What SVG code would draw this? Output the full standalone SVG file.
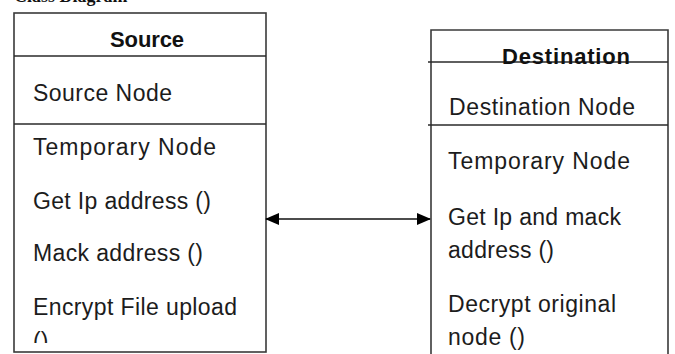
<svg xmlns="http://www.w3.org/2000/svg" width="675" height="354" viewBox="0 0 675 354">
<style>
.box{fill:none;stroke:#3a3a3a;stroke-width:1.6}
.ln{stroke:#2a2a2a;stroke-width:1.4}
.t{font-family:"Liberation Sans",Arial,sans-serif;font-size:23px;fill:#1c1c1c}
.b{font-family:"Liberation Sans",Arial,sans-serif;font-size:22px;font-weight:bold;fill:#111}
.cap{font-family:"Liberation Serif","Times New Roman",serif;font-size:18px;font-weight:bold;fill:#111}
</style>
<defs>
<marker id="ah" viewBox="0 0 14 12" refX="13" refY="6" markerWidth="14" markerHeight="12" markerUnits="userSpaceOnUse" orient="auto-start-reverse">
<path d="M0,0 L14,6 L0,12 Z" fill="#000"/>
</marker>
<clipPath id="srcClip"><rect x="14" y="13" width="252" height="330"/></clipPath>
</defs>
<rect width="675" height="354" fill="#fff"/>
<text class="cap" x="14" y="2">Class Diagram</text>
<g id="source">
<rect class="box" x="14" y="13" width="252" height="339"/>
<line class="ln" x1="14" y1="56" x2="266" y2="56"/>
<line class="ln" x1="14" y1="124" x2="266" y2="124"/>
<text class="b" x="110" y="47" textLength="74">Source</text>
<text class="t" x="33" y="101" textLength="139">Source Node</text>
<text class="t" x="33" y="155" textLength="183">Temporary Node</text>
<text class="t" x="33" y="209" textLength="178">Get Ip address ()</text>
<text class="t" x="33" y="261" textLength="170">Mack address ()</text>
<text class="t" x="33" y="315" textLength="204">Encrypt File upload</text>
<text class="t" x="33" y="349" clip-path="url(#srcClip)">()</text>
</g>
<g id="destination">
<path class="box" d="M431,354 V30 H668 V354"/>
<line class="ln" x1="428" y1="62" x2="668" y2="62"/>
<line class="ln" x1="428" y1="125" x2="668" y2="125"/>
<text class="b" x="502" y="64" textLength="128">Destination</text>
<text class="t" x="449" y="115" textLength="186">Destination Node</text>
<text class="t" x="448" y="169" textLength="182">Temporary Node</text>
<text class="t" x="448" y="225" textLength="173">Get Ip and mack</text>
<text class="t" x="448" y="258" textLength="106">address ()</text>
<text class="t" x="448" y="312" textLength="168">Decrypt original</text>
<text class="t" x="448" y="345" textLength="77">node ()</text>
</g>
<g id="connectors">
<line x1="266" y1="219" x2="430" y2="219" stroke="#111" stroke-width="1.6" marker-start="url(#ah)" marker-end="url(#ah)"/>
</g>
</svg>
